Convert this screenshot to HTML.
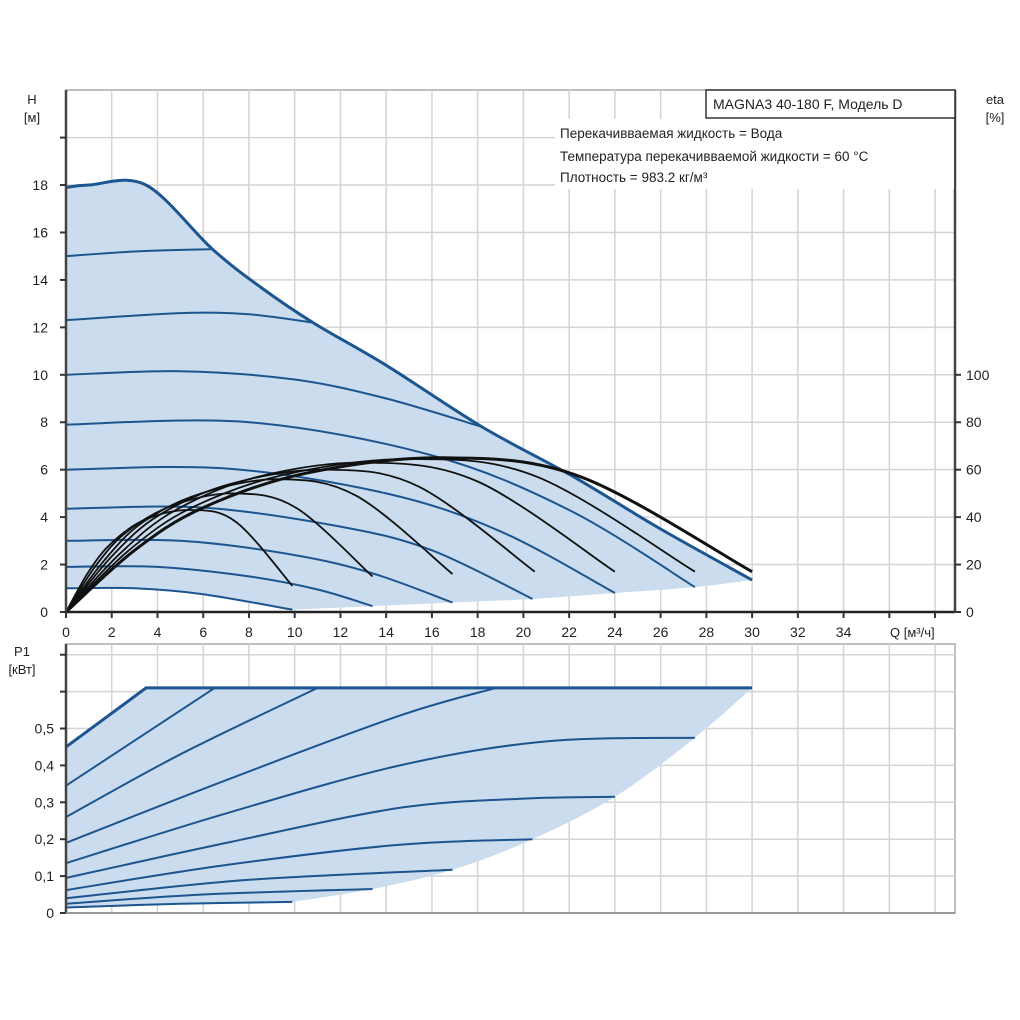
<!DOCTYPE html>
<html><head><meta charset="utf-8"><style>
body{margin:0;background:#fff;}
svg{display:block;font-family:"Liberation Sans",sans-serif;}
</style></head><body>
<svg id="chart" width="1020" height="1020" viewBox="0 0 1020 1020"></svg>
<script>
const xTicks=[0,2,4,6,8,10,12,14,16,18,20,22,24,26,28,30,32,34];
const hTicks=[0,2,4,6,8,10,12,14,16,18];
const etaTicks=[0,20,40,60,80,100];
const pTicks=[0,0.1,0.2,0.3,0.4,0.5];
const pTickLabels=["0","0,1","0,2","0,3","0,4","0,5"];
// Head curves [Q, H]
const hMax=[[0,17.9],[1,18],[3.5,18],[6.4,15.3],[8.5,13.7],[10.8,12.2],[14,10.4],[18.2,7.8],[22.2,5.7],[26,3.5],[30,1.35]];
const hCurves=[
 [[0,15.0],[3,15.2],[6.4,15.3]],
 [[0,12.3],[5,12.6],[8,12.55],[10.8,12.2]],
 [[0,10.0],[5,10.15],[10,9.8],[14,9.0],[18.2,7.8]],
 [[0,7.9],[8,8.0],[16,6.6],[22,4.3],[27.5,1.05]],
 [[0,6.0],[7,6.05],[14,5.0],[19,3.4],[24,0.8]],
 [[0,4.35],[6,4.4],[12,3.6],[16,2.6],[20.4,0.55]],
 [[0,3.0],[5,3.0],[10,2.4],[13.5,1.6],[16.9,0.4]],
 [[0,1.9],[4,1.9],[8,1.5],[11,0.95],[13.4,0.25]],
 [[0,1.0],[3,1.0],[6,0.75],[9.9,0.1]]
];
const hLowerEnds=[[9.9,0.1],[13.4,0.25],[16.9,0.4],[20.4,0.55],[24,0.8],[27.5,1.05],[30,1.35]];
// Efficiency curves [Q, eta%]
const etaCurves=[
 [[0,0],[0.99,17],[1.98,29],[3.47,39],[5.45,43],[7.43,38],[9.9,11]],
 [[0,0],[1.34,20],[2.68,34],[4.69,45],[7.37,50],[10.05,44],[13.4,15]],
 [[0,0],[1.69,22],[3.38,38],[5.92,50],[9.3,56],[12.7,49],[16.9,16]],
 [[0,0],[2.05,24],[4.1,41],[7.2,54],[11.3,60],[15.4,53],[20.5,17]],
 [[0,0],[2.4,25],[4.8,43],[8.4,57],[13.2,63],[18,55],[24,17]],
 [[0,0],[2.75,26],[5.5,44],[9.6,58],[15.1,64.5],[20.6,57],[27.5,17]],
 [[0,0],[3,26],[6,44],[10.5,58.5],[16.5,65],[22.5,57],[30,17]]
];
// Power curves [Q, P1 kW]
const pMax=[[0,0.45],[3.5,0.61],[30,0.61]];
const pCurves=[
 [[0,0.345],[6.5,0.61]],
 [[0,0.26],[5,0.43],[11,0.61]],
 [[0,0.19],[7,0.36],[14.6,0.535],[18.8,0.61]],
 [[0,0.135],[7,0.27],[14.6,0.40],[21,0.465],[27.5,0.475]],
 [[0,0.095],[7,0.19],[14.6,0.285],[20,0.31],[24,0.315]],
 [[0,0.062],[7,0.13],[14.6,0.185],[20.4,0.2]],
 [[0,0.04],[8,0.09],[16.9,0.117]],
 [[0,0.025],[6,0.05],[13.4,0.065]],
 [[0,0.015],[5,0.025],[9.9,0.03]]
];
const pLowerEnds=[[9.9,0.03],[13.4,0.065],[16.9,0.117],[20.4,0.2],[24,0.315],[27.5,0.475],[30,0.61]];

const svg=document.getElementById('chart');
const NS='http://www.w3.org/2000/svg';
const X=q=>66+q*22.87;
const YH=h=>612-h*23.72;
const YE=e=>612-e*2.372;
const YP=p=>913-p*369;
function el(tag,attrs,parent){const e=document.createElementNS(NS,tag);for(const k in attrs)e.setAttribute(k,attrs[k]);(parent||svg).appendChild(e);return e;}
function smooth(pts){
  let d='M'+pts[0][0].toFixed(1)+','+pts[0][1].toFixed(1);
  for(let i=0;i<pts.length-1;i++){
    const p0=pts[Math.max(0,i-1)],p1=pts[i],p2=pts[i+1],p3=pts[Math.min(pts.length-1,i+2)];
    const c1=[p1[0]+(p2[0]-p0[0])/6,p1[1]+(p2[1]-p0[1])/6];
    const c2=[p2[0]-(p3[0]-p1[0])/6,p2[1]-(p3[1]-p1[1])/6];
    d+=' C'+c1[0].toFixed(1)+','+c1[1].toFixed(1)+' '+c2[0].toFixed(1)+','+c2[1].toFixed(1)+' '+p2[0].toFixed(1)+','+p2[1].toFixed(1);
  }
  return d;
}
function txt(s,x,y,anchor,name,size){const t=el('text',{x:x,y:y,'text-anchor':anchor||'start','font-size':size||13,fill:'#222'});t.textContent=s;


return t;}

// ---------- TOP PLOT ----------
const gTop=el('g',{});


el('rect',{x:66,y:90,width:889,height:522,fill:'#fff',stroke:'#aaa','stroke-width':1.5},gTop);
for(let q=2;q<=38;q+=2){const l=el('line',{x1:X(q),y1:90,x2:X(q),y2:612,stroke:'#d4d4d4','stroke-width':1.5},gTop);

}
for(let h=2;h<=20;h+=2){const l=el('line',{x1:66,y1:YH(h),x2:955,y2:YH(h),stroke:'#d4d4d4','stroke-width':1.5},gTop);

}
// fill region
const maxPts=hMax.map(p=>[X(p[0]),YH(p[1])]);
const lowPts=hCurves[hCurves.length-1].map(p=>[X(p[0]),YH(p[1])]);
const endPts=hLowerEnds.map(p=>[X(p[0]),YH(p[1])]);
let fd=smooth(maxPts)+' L'+smooth(endPts.slice().reverse()).slice(1)+' L'+smooth(lowPts.slice().reverse()).slice(1)+' Z';
const hf=el('path',{d:fd,fill:'#cadced',stroke:'none'},gTop);


hCurves.forEach((c,i)=>{const p=el('path',{d:smooth(c.map(p=>[X(p[0]),YH(p[1])])),fill:'none',stroke:'#1d5590','stroke-width':2},gTop);

});
const hm=el('path',{d:smooth(maxPts),fill:'none',stroke:'#1d5590','stroke-width':3},gTop);


etaCurves.forEach((c,i)=>{const p=el('path',{d:smooth(c.map(p=>[X(p[0]),YE(p[1])])),fill:'none',stroke:'#111','stroke-width':i==etaCurves.length-1?3:1.8},gTop);

});
// axes
el('line',{x1:66,y1:90,x2:66,y2:613,stroke:'#444','stroke-width':2.5},gTop);
el('line',{x1:65,y1:612,x2:955,y2:612,stroke:'#222','stroke-width':2.5},gTop);
el('line',{x1:955,y1:90,x2:955,y2:613,stroke:'#444','stroke-width':2.5},gTop);
hTicks.concat([20]).forEach(h=>{el('line',{x1:60,y1:YH(h),x2:66,y2:YH(h),stroke:'#333','stroke-width':2},gTop);});
hTicks.forEach(h=>txt(String(h),48,YH(h)+5,'end','h-tick-label',14));
xTicks.concat([36,38]).forEach(q=>{el('line',{x1:X(q),y1:612,x2:X(q),y2:618,stroke:'#333','stroke-width':2},gTop);});
xTicks.forEach(q=>txt(String(q),X(q),637,'middle','x-tick-label',14));
etaTicks.forEach(e=>{el('line',{x1:955,y1:YE(e),x2:961,y2:YE(e),stroke:'#333','stroke-width':2},gTop);txt(String(e),966,YE(e)+5,'start','eta-tick-label',14);});
txt('H',32,104,'middle','h-axis-title',13);
txt('[м]',32,122,'middle','h-axis-unit',13);
txt('eta',995,104,'middle','eta-axis-title',13);
txt('[%]',995,122,'middle','eta-axis-unit',13);
txt('Q [м³/ч]',890,637,'start','x-axis-title',13);
// legend
const lg=el('rect',{x:706,y:90,width:249,height:28,fill:'#fff',stroke:'#333','stroke-width':1.5});


txt('MAGNA3 40-180 F, Модель D',713,109,'start','model-title',14);
el('rect',{x:555,y:119,width:399,height:70,fill:'#fff',stroke:'none'});
txt('Перекачивваемая жидкость = Вода',560,138,'start','info-liquid',13.5);
txt('Температура перекачивваемой жидкости = 60 °C',560,161,'start','info-temperature',13.5);
txt('Плотность = 983.2 кг/м³',560,182,'start','info-density',13.5);

// ---------- BOTTOM PLOT ----------
const gB=el('g',{});


el('rect',{x:66,y:644,width:889,height:269,fill:'#fff',stroke:'#aaa','stroke-width':1.5},gB);
for(let q=2;q<=38;q+=2){el('line',{x1:X(q),y1:644,x2:X(q),y2:913,stroke:'#d4d4d4','stroke-width':1.5},gB);}
for(let i=1;i<=7;i++){el('line',{x1:66,y1:YP(i/10),x2:955,y2:YP(i/10),stroke:'#d4d4d4','stroke-width':1.5},gB);}
const pmPts=pMax.map(p=>[X(p[0]),YP(p[1])]);
const plow=pCurves[pCurves.length-1].map(p=>[X(p[0]),YP(p[1])]);
const pend=pLowerEnds.map(p=>[X(p[0]),YP(p[1])]);
let pd='M'+pmPts.map(p=>p.join(',')).join(' L')+' L'+smooth(pend.slice().reverse()).slice(1)+' L'+smooth(plow.slice().reverse()).slice(1)+' Z';
const pf=el('path',{d:pd,fill:'#cadced',stroke:'none'},gB);


pCurves.forEach((c,i)=>{const p=el('path',{d:smooth(c.map(p=>[X(p[0]),YP(p[1])])),fill:'none',stroke:'#1d5590','stroke-width':2},gB);

});
const pm=el('path',{d:'M'+pmPts.map(p=>p.join(',')).join(' L'),fill:'none',stroke:'#1d5590','stroke-width':3},gB);


el('line',{x1:66,y1:644,x2:66,y2:914,stroke:'#444','stroke-width':2.5},gB);
el('line',{x1:65,y1:913,x2:955,y2:913,stroke:'#999','stroke-width':2},gB);
for(let i=0;i<=7;i++){el('line',{x1:60,y1:YP(i/10),x2:66,y2:YP(i/10),stroke:'#333','stroke-width':2},gB);}
pTicks.forEach((p,i)=>txt(pTickLabels[i],54,YP(p)+5,'end','p-tick-label',14));
txt('P1',22,656,'middle','p-axis-title',13);
txt('[кВт]',22,674,'middle','p-axis-unit',13);
</script>
</body></html>
